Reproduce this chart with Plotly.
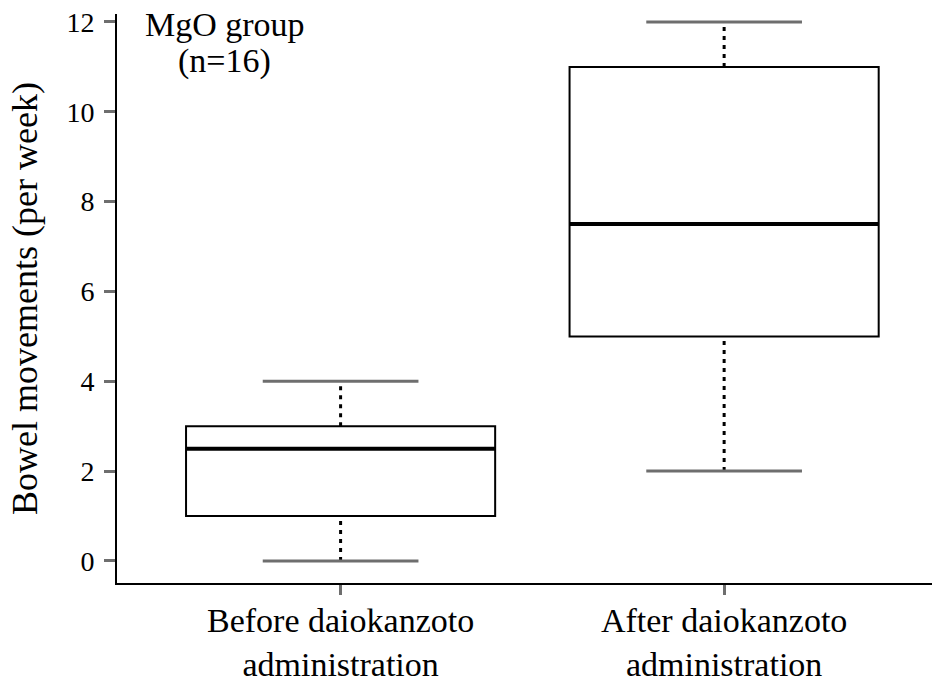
import plotly.graph_objects as go

# ---- data ----
categories = ["Before daiokanzoto<br>administration", "After daiokanzoto<br>administration"]
positions = [0, 1]
q1 = [1, 5]
median = [2.5, 7.5]
q3 = [3, 11]
lower = [0, 2]
upper = [4, 12]
y_ticks = [0, 2, 4, 6, 8, 10, 12]

BOX_W = 0.806
CAP_HALF = 0.203
FONT = "Liberation Serif, Times New Roman, serif"

fig = go.Figure()

# boxes (whiskers drawn separately as dotted lines)
fig.add_trace(go.Box(
    x=positions, q1=q1, median=median, q3=q3,
    lowerfence=q1, upperfence=q3,
    width=BOX_W, whiskerwidth=0,
    fillcolor="white", line=dict(color="black", width=2),
    boxpoints=False, showlegend=False, hoverinfo="skip",
))

for i, p in enumerate(positions):
    # dotted whiskers
    fig.add_trace(go.Scatter(x=[p, p], y=[q3[i], upper[i]], mode="lines",
                             line=dict(color="black", width=3, dash="4px,5px"),
                             showlegend=False, hoverinfo="skip"))
    fig.add_trace(go.Scatter(x=[p, p], y=[lower[i], q1[i]], mode="lines",
                             line=dict(color="black", width=3, dash="4px,5px"),
                             showlegend=False, hoverinfo="skip"))
    # caps
    for v in (lower[i], upper[i]):
        fig.add_trace(go.Scatter(x=[p - CAP_HALF, p + CAP_HALF], y=[v, v], mode="lines",
                                 line=dict(color="#6e6e6e", width=3),
                                 showlegend=False, hoverinfo="skip"))
    # thick median
    fig.add_trace(go.Scatter(x=[p - BOX_W / 2, p + BOX_W / 2], y=[median[i], median[i]],
                             mode="lines", line=dict(color="black", width=4),
                             showlegend=False, hoverinfo="skip"))

fig.update_layout(
    width=945, height=685,
    margin=dict(l=117, r=13, t=14, b=102),
    plot_bgcolor="white", paper_bgcolor="white",
    font=dict(family=FONT, color="black"),
    showlegend=False,
    xaxis=dict(
        range=[-0.583, 1.542], tickmode="array", tickvals=positions, ticktext=categories,
        showline=True, linecolor="black", linewidth=2, showgrid=False, zeroline=False,
        ticks="outside", ticklen=10, tickwidth=3, tickcolor="#6e6e6e",
        tickfont=dict(size=34, family=FONT, color="black"),
        ticklabelstandoff=-4,
        automargin=False,
    ),
    yaxis=dict(
        range=[-0.491, 12.178], tickmode="array", tickvals=y_ticks,
        showline=True, linecolor="black", linewidth=2, showgrid=False, zeroline=False,
        ticks="outside", ticklen=11, tickwidth=3, tickcolor="#6e6e6e",
        tickfont=dict(size=28, family=FONT, color="black"),
        ticklabelstandoff=4,
        automargin=False,
        title=dict(text="Bowel movements (per week)", font=dict(size=36, family=FONT, color="black"),
                   standoff=18),
    ),
    annotations=[
        dict(text="MgO group", x=-0.302, y=1, xref="x", yref="paper", showarrow=False,
             yanchor="top", yshift=10, font=dict(size=34, family=FONT, color="black")),
        dict(text="(n=16)", x=-0.302, y=1, xref="x", yref="paper", showarrow=False,
             yanchor="top", yshift=-26, font=dict(size=34, family=FONT, color="black")),
    ],
)

fig.write_html("out.html", config={"displayModeBar": False},
               post_script="document.body.style.margin='0';")
